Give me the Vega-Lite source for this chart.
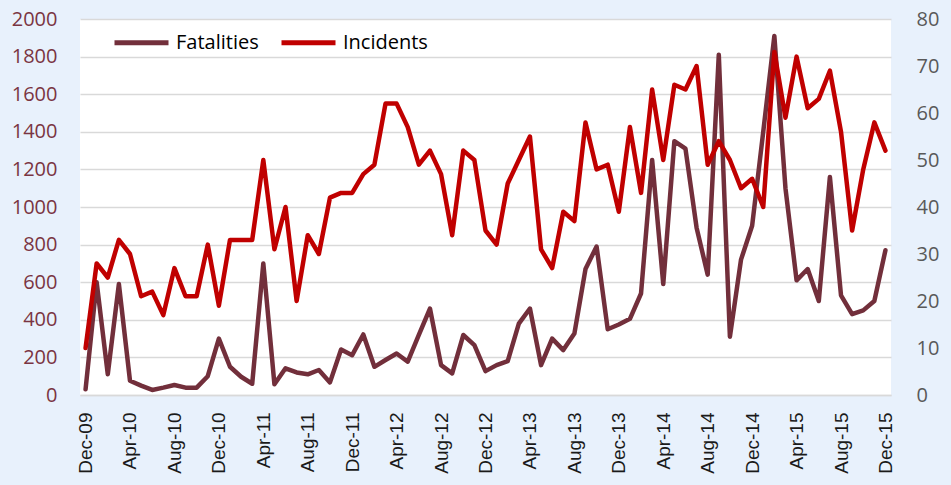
{
  "$schema": "https://vega.github.io/schema/vega-lite/v6.json",
  "autosize": "none",
  "width": 811,
  "height": 376,
  "padding": {"left": 80, "top": 19, "right": 60, "bottom": 90},
  "background": "#e8f1fc",
  "view": {"fill": "white", "stroke": null},
  "config": {
    "axis": {"grid": false, "ticks": false, "domain": false, "title": null}
  },
  "data": {
    "values": [
      {"month": "Dec-09", "Fatalities": 30, "Incidents": 10},
      {"month": "Jan-10", "Fatalities": 600, "Incidents": 28},
      {"month": "Feb-10", "Fatalities": 110, "Incidents": 25},
      {"month": "Mar-10", "Fatalities": 590, "Incidents": 33},
      {"month": "Apr-10", "Fatalities": 76, "Incidents": 30},
      {"month": "May-10", "Fatalities": 50, "Incidents": 21},
      {"month": "Jun-10", "Fatalities": 27, "Incidents": 22},
      {"month": "Jul-10", "Fatalities": 39, "Incidents": 17},
      {"month": "Aug-10", "Fatalities": 53, "Incidents": 27},
      {"month": "Sep-10", "Fatalities": 39, "Incidents": 21},
      {"month": "Oct-10", "Fatalities": 39, "Incidents": 21},
      {"month": "Nov-10", "Fatalities": 100, "Incidents": 32},
      {"month": "Dec-10", "Fatalities": 300, "Incidents": 19},
      {"month": "Jan-11", "Fatalities": 150, "Incidents": 33},
      {"month": "Feb-11", "Fatalities": 97, "Incidents": 33},
      {"month": "Mar-11", "Fatalities": 60, "Incidents": 33},
      {"month": "Apr-11", "Fatalities": 700, "Incidents": 50},
      {"month": "May-11", "Fatalities": 57, "Incidents": 31},
      {"month": "Jun-11", "Fatalities": 142, "Incidents": 40},
      {"month": "Jul-11", "Fatalities": 120, "Incidents": 20},
      {"month": "Aug-11", "Fatalities": 110, "Incidents": 34},
      {"month": "Sep-11", "Fatalities": 133, "Incidents": 30},
      {"month": "Oct-11", "Fatalities": 67, "Incidents": 42},
      {"month": "Nov-11", "Fatalities": 242, "Incidents": 43},
      {"month": "Dec-11", "Fatalities": 212, "Incidents": 43},
      {"month": "Jan-12", "Fatalities": 322, "Incidents": 47},
      {"month": "Feb-12", "Fatalities": 150, "Incidents": 49},
      {"month": "Mar-12", "Fatalities": 186, "Incidents": 62},
      {"month": "Apr-12", "Fatalities": 221, "Incidents": 62},
      {"month": "May-12", "Fatalities": 177, "Incidents": 57},
      {"month": "Jun-12", "Fatalities": 320, "Incidents": 49},
      {"month": "Jul-12", "Fatalities": 460, "Incidents": 52},
      {"month": "Aug-12", "Fatalities": 159, "Incidents": 47},
      {"month": "Sep-12", "Fatalities": 115, "Incidents": 34},
      {"month": "Oct-12", "Fatalities": 319, "Incidents": 52},
      {"month": "Nov-12", "Fatalities": 265, "Incidents": 50},
      {"month": "Dec-12", "Fatalities": 127, "Incidents": 35},
      {"month": "Jan-13", "Fatalities": 159, "Incidents": 32},
      {"month": "Feb-13", "Fatalities": 180, "Incidents": 45},
      {"month": "Mar-13", "Fatalities": 380, "Incidents": 50},
      {"month": "Apr-13", "Fatalities": 460, "Incidents": 55},
      {"month": "May-13", "Fatalities": 159, "Incidents": 31},
      {"month": "Jun-13", "Fatalities": 300, "Incidents": 27},
      {"month": "Jul-13", "Fatalities": 239, "Incidents": 39},
      {"month": "Aug-13", "Fatalities": 327, "Incidents": 37},
      {"month": "Sep-13", "Fatalities": 670, "Incidents": 58},
      {"month": "Oct-13", "Fatalities": 790, "Incidents": 48},
      {"month": "Nov-13", "Fatalities": 350, "Incidents": 49},
      {"month": "Dec-13", "Fatalities": 375, "Incidents": 39},
      {"month": "Jan-14", "Fatalities": 405, "Incidents": 57},
      {"month": "Feb-14", "Fatalities": 540, "Incidents": 43},
      {"month": "Mar-14", "Fatalities": 1250, "Incidents": 65},
      {"month": "Apr-14", "Fatalities": 590, "Incidents": 50},
      {"month": "May-14", "Fatalities": 1350, "Incidents": 66},
      {"month": "Jun-14", "Fatalities": 1310, "Incidents": 65},
      {"month": "Jul-14", "Fatalities": 890, "Incidents": 70},
      {"month": "Aug-14", "Fatalities": 640, "Incidents": 49},
      {"month": "Sep-14", "Fatalities": 1810, "Incidents": 54},
      {"month": "Oct-14", "Fatalities": 310, "Incidents": 50},
      {"month": "Nov-14", "Fatalities": 720, "Incidents": 44},
      {"month": "Dec-14", "Fatalities": 900, "Incidents": 46},
      {"month": "Jan-15", "Fatalities": 1400, "Incidents": 40},
      {"month": "Feb-15", "Fatalities": 1910, "Incidents": 73},
      {"month": "Mar-15", "Fatalities": 1100, "Incidents": 59},
      {"month": "Apr-15", "Fatalities": 610, "Incidents": 72},
      {"month": "May-15", "Fatalities": 670, "Incidents": 61},
      {"month": "Jun-15", "Fatalities": 500, "Incidents": 63},
      {"month": "Jul-15", "Fatalities": 1160, "Incidents": 69},
      {"month": "Aug-15", "Fatalities": 530, "Incidents": 56},
      {"month": "Sep-15", "Fatalities": 430, "Incidents": 35},
      {"month": "Oct-15", "Fatalities": 450, "Incidents": 48},
      {"month": "Nov-15", "Fatalities": 500, "Incidents": 58},
      {"month": "Dec-15", "Fatalities": 770, "Incidents": 52}
    ]
  },
  "encoding": {
    "x": {
      "field": "month",
      "type": "ordinal",
      "sort": null,
      "scale": {"type": "point", "padding": 0.5},
      "axis": {
        "values": ["Dec-09", "Apr-10", "Aug-10", "Dec-10", "Apr-11", "Aug-11", "Dec-11", "Apr-12", "Aug-12", "Dec-12", "Apr-13", "Aug-13", "Dec-13", "Apr-14", "Aug-14", "Dec-14", "Apr-15", "Aug-15", "Dec-15"],
        "labelAngle": -90,
        "labelAlign": "right",
        "labelBaseline": "middle",
        "labelPadding": 17,
        "labelFont": "Liberation Sans",
        "labelFontSize": 19,
        "labelColor": "#1a1a1a",
        "domain": true,
        "domainColor": "#d9d9d9",
        "domainWidth": 1.5
      }
    }
  },
  "layer": [
    {
      "mark": {"type": "line", "strokeWidth": 4.5, "strokeJoin": "round", "strokeCap": "round"},
      "encoding": {
        "y": {
          "field": "Fatalities",
          "type": "quantitative",
          "scale": {"domain": [0, 2000], "nice": false},
          "axis": {
            "orient": "left",
            "values": [0, 200, 400, 600, 800, 1000, 1200, 1400, 1600, 1800, 2000],
            "format": "d",
            "grid": true,
            "gridColor": "#d9d9d9",
            "gridWidth": 1.5,
            "labelFont": "Open Sans",
            "labelFontSize": 20,
            "labelColor": "#7a3542",
            "labelPadding": 23
          }
        },
        "color": {
          "datum": "Fatalities",
          "scale": {"domain": ["Fatalities", "Incidents"], "range": ["#722f3b", "#c00000"]},
          "legend": {
            "orient": "none",
            "legendX": 32,
            "legendY": -6,
            "direction": "horizontal",
            "title": null,
            "symbolType": "stroke",
            "symbolSize": 2916,
            "symbolStrokeWidth": 5,
            "labelFont": "Open Sans",
            "labelFontSize": 20,
            "labelColor": "#000000",
            "labelOffset": 5,
            "columnPadding": 12,
            "padding": 0
          }
        }
      }
    },
    {
      "mark": {"type": "line", "strokeWidth": 4.5, "strokeJoin": "round", "strokeCap": "round"},
      "encoding": {
        "y": {
          "field": "Incidents",
          "type": "quantitative",
          "scale": {"domain": [0, 80], "nice": false},
          "axis": {
            "orient": "right",
            "values": [0, 10, 20, 30, 40, 50, 60, 70, 80],
            "labelFont": "Open Sans",
            "labelFontSize": 20,
            "labelColor": "#595959",
            "labelPadding": 25
          }
        },
        "color": {"datum": "Incidents"}
      }
    }
  ],
  "resolve": {"scale": {"y": "independent"}}
}
